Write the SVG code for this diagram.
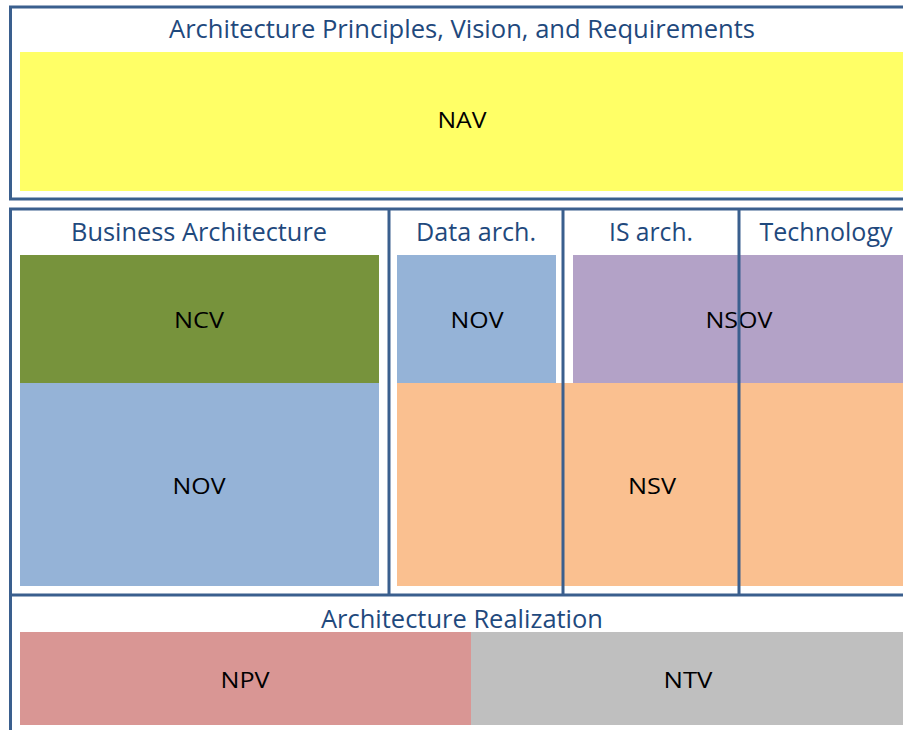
<svg xmlns="http://www.w3.org/2000/svg" width="903" height="730" viewBox="0 0 903 730">
<style>
.frame{fill:none;stroke:#3A5F8E;stroke-width:3}
.hdr{font-family:"Open Sans","Liberation Sans",sans-serif;font-size:25px;fill:#1F497D;text-anchor:middle}
.lbl{font-family:"Open Sans","Liberation Sans",sans-serif;font-size:22px;fill:#000;text-anchor:middle}
</style>
<rect x="0" y="0" width="903" height="730" fill="#fff"/>
<g id="principles">
<text class="hdr" x="462" y="38" textLength="586" lengthAdjust="spacingAndGlyphs">Architecture Principles, Vision, and Requirements</text>
</g>
<g id="nav">
<rect x="20" y="52" width="883" height="139" fill="#FFFF66"/>
<text class="lbl" x="462" y="128" textLength="49" lengthAdjust="spacingAndGlyphs">NAV</text>
</g>
<g id="business">
<text class="hdr" x="199" y="241" textLength="256" lengthAdjust="spacingAndGlyphs">Business Architecture</text>
</g>
<g id="data">
<text class="hdr" x="476" y="241" textLength="120" lengthAdjust="spacingAndGlyphs">Data arch.</text>
</g>
<g id="is">
<text class="hdr" x="651" y="241" textLength="84" lengthAdjust="spacingAndGlyphs">IS arch.</text>
</g>
<g id="technology">
<text class="hdr" x="826" y="241" textLength="133" lengthAdjust="spacingAndGlyphs">Technology</text>
</g>
<g id="ncv">
<rect x="20" y="255" width="359" height="128" fill="#77933C"/>
<text class="lbl" x="199" y="328" textLength="50" lengthAdjust="spacingAndGlyphs">NCV</text>
</g>
<g id="nov-business">
<rect x="20" y="383" width="359" height="203" fill="#95B3D7"/>
<text class="lbl" x="199" y="494" textLength="53" lengthAdjust="spacingAndGlyphs">NOV</text>
</g>
<g id="nov-data">
<rect x="397" y="255" width="159" height="128" fill="#95B3D7"/>
<text class="lbl" x="477" y="328" textLength="53" lengthAdjust="spacingAndGlyphs">NOV</text>
</g>
<g id="nsov">
<rect x="573" y="255" width="330" height="128" fill="#B3A2C7"/>
<text class="lbl" x="739" y="328" textLength="67" lengthAdjust="spacingAndGlyphs">NSOV</text>
</g>
<g id="nsv">
<rect x="397" y="383" width="506" height="203" fill="#FAC090"/>
<text class="lbl" x="652" y="494" textLength="48" lengthAdjust="spacingAndGlyphs">NSV</text>
</g>
<g id="realization">
<text class="hdr" x="462" y="628" textLength="282" lengthAdjust="spacingAndGlyphs">Architecture Realization</text>
</g>
<g id="npv">
<rect x="20" y="632" width="451" height="93" fill="#D99694"/>
<text class="lbl" x="245" y="688" textLength="49" lengthAdjust="spacingAndGlyphs">NPV</text>
</g>
<g id="ntv">
<rect x="471" y="632" width="432" height="93" fill="#BFBFBF"/>
<text class="lbl" x="688" y="688" textLength="49" lengthAdjust="spacingAndGlyphs">NTV</text>
</g>
<g id="connectors" class="frame">
<path d="M906,7 H10.5 V199 H906"/>
<path d="M906,209 H10.5 V732"/>
<path d="M10.5,595 H906"/>
<path d="M389,209 V595 M563,209 V595 M739,209 V595"/>
</g>
</svg>
